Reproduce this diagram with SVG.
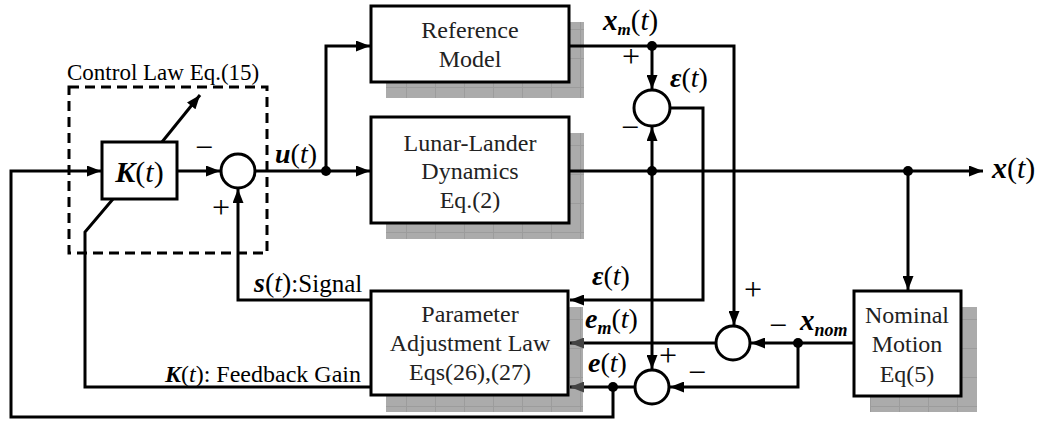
<svg xmlns="http://www.w3.org/2000/svg" width="1042" height="421" viewBox="0 0 1042 421">
<style>
.ln{fill:none;stroke:#000;stroke-width:3}
.bx{fill:#fff;stroke:#000;stroke-width:3}
.sh{fill:url(#tex)}
.sum{fill:#fff;stroke:#000;stroke-width:3}
.dot{fill:#000}
.t{font-family:"Liberation Serif","Times New Roman",serif;fill:#000}
.sg{font-family:"Liberation Serif","Times New Roman",serif;font-size:32px;fill:#000;text-anchor:middle}
.bt{font-family:"Liberation Serif","Times New Roman",serif;font-size:24px;fill:#222;text-anchor:middle}
.m{font-family:"Liberation Serif","Times New Roman",serif;fill:#000}
.bi{font-weight:bold;font-style:italic}
.i{font-style:italic}
</style>
<defs>
<pattern id="tex" width="29" height="29" patternUnits="userSpaceOnUse">
<rect width="29" height="29" fill="#ababab"/>
<path d="M0,0.5H29M0.5,0V29" stroke="#9c9c9c" stroke-width="1"/>
</pattern>
<marker id="ar" markerUnits="userSpaceOnUse" markerWidth="15" markerHeight="11" refX="14" refY="5.5" orient="auto">
<path d="M0,0L14,5.5L0,11z" fill="#000"/>
</marker>
<marker id="arg" markerUnits="userSpaceOnUse" markerWidth="15" markerHeight="11" refX="14" refY="5.5" orient="auto">
<path d="M0,0L14,5.5L0,11z" fill="#444"/>
</marker>
</defs>
<rect width="1042" height="421" fill="#fff"/>

<g id="control-law">
<rect x="69" y="87" width="198" height="166" fill="none" stroke="#000" stroke-width="3" stroke-dasharray="10,6"/>
<text class="t" x="67" y="80" font-size="23">Control Law Eq.(15)</text>
</g>

<g id="shadows">
<rect class="sh" x="386" y="22" width="198" height="76"/>
<rect class="sh" x="386" y="133" width="198" height="106"/>
<rect class="sh" x="386" y="307" width="197" height="105"/>
<rect class="sh" x="870" y="307" width="107" height="105"/>
</g>

<g id="connectors">
<path class="ln" d="M613,387V417H11V171H101" marker-end="url(#ar)"/>
<path class="ln" d="M177,171H220" marker-end="url(#ar)"/>
<path class="ln" d="M256,171H370" marker-end="url(#ar)"/>
<path class="ln" d="M326,171V46H370" marker-end="url(#ar)"/>
<path class="ln" d="M569,46H734V325" marker-end="url(#ar)"/>
<path class="ln" d="M652,46V89" marker-end="url(#ar)"/>
<path class="ln" d="M569,171H983" marker-end="url(#ar)"/>
<path class="ln" d="M652,171V127" marker-end="url(#ar)"/>
<path class="ln" d="M652,171V369" marker-end="url(#ar)"/>
<path class="ln" d="M908,171V290" marker-end="url(#ar)"/>
<path class="ln" d="M670,108H703V300H570" marker-end="url(#ar)"/>
<path class="ln" d="M716,343H570" marker-end="url(#arg)"/>
<path class="ln" d="M635,387H570" marker-end="url(#arg)"/>
<path class="ln" d="M854,343H751" marker-end="url(#ar)"/>
<path class="ln" d="M798,343V387H670" marker-end="url(#ar)"/>
<path class="ln" d="M371,300H238V189" marker-end="url(#ar)"/>
<path class="ln" d="M162,142L200,95" marker-end="url(#ar)"/>
<path class="ln" d="M113,199L85,232V387H371"/>
<circle class="dot" cx="326" cy="171" r="5"/>
<circle class="dot" cx="652" cy="46" r="5"/>
<circle class="dot" cx="652" cy="171" r="5"/>
<circle class="dot" cx="908" cy="171" r="5"/>
<circle class="dot" cx="798" cy="343" r="5"/>
<circle class="dot" cx="613" cy="387" r="5"/>
</g>

<g id="gain-block">
<rect class="bx" x="102" y="142" width="75" height="57"/>
<text class="m" x="139.5" y="182" font-size="30" text-anchor="middle"><tspan class="bi">K</tspan>(<tspan class="i">t</tspan>)</text>
</g>

<g id="sum1">
<circle class="sum" cx="238" cy="171" r="17"/>
<text class="sg" x="204" y="158">−</text>
<text class="sg" x="221" y="218">+</text>
</g>

<g id="reference-model">
<rect class="bx" x="371" y="6" width="198" height="76"/>
<text class="bt" x="470" y="38">Reference</text>
<text class="bt" x="470" y="67">Model</text>
</g>

<g id="lunar-lander">
<rect class="bx" x="371" y="117" width="198" height="106"/>
<text class="bt" x="470" y="151">Lunar-Lander</text>
<text class="bt" x="470" y="179">Dynamics</text>
<text class="bt" x="470" y="208">Eq.(2)</text>
</g>

<g id="parameter-adjustment">
<rect class="bx" x="371" y="291" width="197" height="104"/>
<text class="bt" x="470" y="322">Parameter</text>
<text class="bt" x="470" y="351">Adjustment Law</text>
<text class="bt" x="470" y="380">Eqs(26),(27)</text>
</g>

<g id="nominal-motion">
<rect class="bx" x="854" y="291" width="107" height="105"/>
<text class="bt" x="907" y="323">Nominal</text>
<text class="bt" x="907" y="352">Motion</text>
<text class="bt" x="907" y="382">Eq(5)</text>
</g>

<g id="sum2">
<circle class="sum" cx="652" cy="108" r="18"/>
<text class="sg" x="631" y="67">+</text>
<text class="sg" x="630" y="138">−</text>
</g>

<g id="sum3">
<circle class="sum" cx="733" cy="343" r="17"/>
<text class="sg" x="753" y="300">+</text>
<text class="sg" x="778" y="336">−</text>
</g>

<g id="sum4">
<circle class="sum" cx="652" cy="387" r="17"/>
<text class="sg" x="668" y="366">+</text>
<text class="sg" x="697" y="383">−</text>
</g>

<g id="labels">
<text class="m" x="275" y="163" font-size="28"><tspan class="bi">u</tspan>(<tspan class="i">t</tspan>)</text>
<text class="m" x="603" y="30" font-size="29"><tspan class="bi">x</tspan><tspan class="bi" font-size="17" dy="5">m</tspan><tspan dy="-5">(</tspan><tspan class="i">t</tspan>)</text>
<text class="m" x="670" y="87" font-size="28"><tspan class="bi">ε</tspan>(<tspan class="i">t</tspan>)</text>
<text class="m" x="992" y="178" font-size="30"><tspan class="bi">x</tspan>(<tspan class="i">t</tspan>)</text>
<text class="m" x="592" y="285" font-size="28"><tspan class="bi">ε</tspan>(<tspan class="i">t</tspan>)</text>
<text class="m" x="585" y="328" font-size="28"><tspan class="bi">e</tspan><tspan class="bi" font-size="18" dy="6">m</tspan><tspan dy="-6">(</tspan><tspan class="i">t</tspan>)</text>
<text class="m" x="588" y="372" font-size="28"><tspan class="bi">e</tspan>(<tspan class="i">t</tspan>)</text>
<text class="m" x="800" y="330" font-size="29"><tspan class="bi">x</tspan><tspan class="bi" font-size="18" dy="6">nom</tspan></text>
<text class="m" x="254" y="292" font-size="28"><tspan class="bi">s</tspan>(<tspan class="i">t</tspan>)<tspan font-size="25">:Signal</tspan></text>
<text class="m" x="165" y="382" font-size="24"><tspan class="bi">K</tspan>(<tspan class="i">t</tspan>): Feedback Gain</text>
</g>
</svg>
